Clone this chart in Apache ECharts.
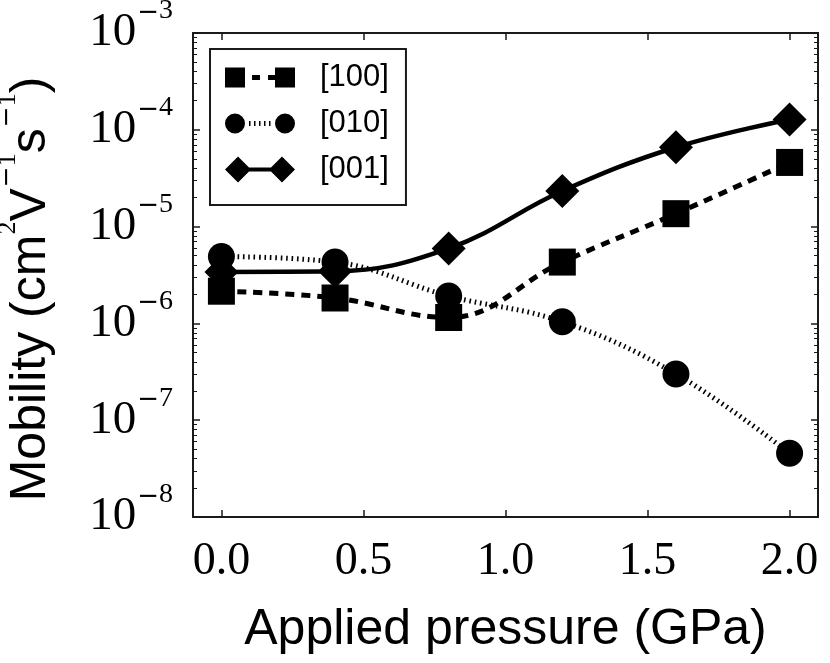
<!DOCTYPE html>
<html>
<head>
<meta charset="utf-8">
<script src="https://cdn.jsdelivr.net/npm/echarts@6/dist/echarts.min.js"></script>
<style>
html,body{margin:0;padding:0;background:#fff;}
#chart{width:830px;height:663px;}
</style>
</head>
<body>
<div id="chart"></div>
<script>
// ---- data ----
const pressure = [0.0, 0.4, 0.8, 1.2, 1.6, 2.0];
const mob100 = [2.15e-6, 1.83e-6, 1.15e-6, 4.3e-6, 1.36e-5, 4.6e-5];
const mob010 = [4.9e-6, 4.3e-6, 1.92e-6, 1.04e-6, 3.0e-7, 4.55e-8];
const mob001 = [3.4e-6, 3.45e-6, 5.95e-6, 2.33e-5, 6.6e-5, 1.28e-4];
const seriesNames = ['[100]', '[010]', '[001]'];
const xLabel = 'Applied pressure (GPa)';

const pairs = (ys) => pressure.map((x, i) => [x, ys[i]]);

// legend icons (matplotlib style: marker - line - marker), 70x26 box
const corner = 'M0,0 L0.01,0 L0.01,0.01 Z M69.99,25.99 L70,25.99 L70,26 Z ';
const icon100 = 'path://' + corner +
  'M0,3 L20,3 L20,23 L0,23 Z M27,10.5 L35,10.5 L35,15.5 L27,15.5 Z M43,10.5 L50,10.5 L50,15.5 L43,15.5 Z M50,3 L70,3 L70,23 L50,23 Z';
let dots = '';
[24, 29, 34, 39, 44].forEach(x => { dots += 'M' + x + ',10.5 L' + (x + 1.5) + ',10.5 L' + (x + 1.5) + ',15.5 L' + x + ',15.5 Z '; });
const icon010 = 'path://' + corner +
  'M0,13 A10,10 0 1,0 20,13 A10,10 0 1,0 0,13 Z M50,13 A10,10 0 1,0 70,13 A10,10 0 1,0 50,13 Z ' + dots;
const icon001 = 'path://' + corner +
  'M0,13 L13,0 L26,13 L13,26 Z M24,11 L46,11 L46,15 L24,15 Z M44,13 L57,0 L70,13 L57,26 Z';

const serif = 'Liberation Serif';
const sans = 'Liberation Sans';
const frameColor = '#1a1a1a';

const chart = echarts.init(document.getElementById('chart'), null, {renderer: 'canvas'});

// tick label "10^-n": base near the tick, exponent raised
const yLabelRich = {
  b: {fontFamily: serif, fontSize: 47, lineHeight: 88, padding: [20.5, 0, 0, 0], verticalAlign: 'top', color: '#000'},
  m: {fontFamily: 'DejaVu Sans', fontSize: 26, lineHeight: 88, padding: [11, 0, 0, 1], verticalAlign: 'top', color: '#000'},
  s: {fontFamily: serif, fontSize: 28, lineHeight: 88, padding: [8, 0, 0, 0], verticalAlign: 'top', color: '#000'}
};

const commonX = {
  type: 'value', min: -0.1, max: 2.1, splitNumber: 5,
  axisLine: {show: true, onZero: false, lineStyle: {color: frameColor, width: 2}},
  axisTick: {show: true, inside: true, length: 7, lineStyle: {color: frameColor, width: 1.5}},
  splitLine: {show: false}
};
const commonY = {
  type: 'log', logBase: 10, min: 1e-8, max: 1e-3,
  axisLine: {show: true, onZero: false, lineStyle: {color: frameColor, width: 2}},
  axisTick: {show: true, inside: true, length: 7, lineStyle: {color: frameColor, width: 1.5}},
  minorTick: {show: true, splitNumber: 9, length: 4, lineStyle: {color: frameColor, width: 1}},
  splitLine: {show: false},
  minorSplitLine: {show: false}
};

const option = {
  backgroundColor: '#fff',
  animation: false,
  grid: {left: 193, right: 12, top: 33, bottom: 146, containLabel: false, outerBoundsMode: 'none'},
  xAxis: [
    Object.assign({}, commonX, {
      position: 'bottom',
      name: xLabel, nameLocation: 'middle', nameGap: 88,
      nameTextStyle: {fontFamily: sans, fontSize: 50, color: '#000'},
      axisLabel: {show: true, margin: 22, fontFamily: serif, fontSize: 46, color: '#000',
        showMinLabel: false, showMaxLabel: false, hideOverlap: false,
        formatter: v => v.toFixed(1)}
    }),
    Object.assign({}, commonX, {position: 'top', axisLabel: {show: false}})
  ],
  yAxis: [
    Object.assign({}, commonY, {
      position: 'left',
      name: '{a|Mobility (cm}{s|2}{a|V}{m|−}{s|1}{a|s}{m|−}{s|1}{e|)}',
      nameLocation: 'middle', nameRotate: 90, nameGap: 138,
      nameTextStyle: {
        rich: {
          a: {fontFamily: sans, fontSize: 50, lineHeight: 60, padding: [11.5, 0, 0, 0], verticalAlign: 'top', color: '#000'},
          e: {fontFamily: sans, fontSize: 50, lineHeight: 60, padding: [11.5, 28, 0, 0], verticalAlign: 'top', color: '#000'},
          s: {fontFamily: serif, fontSize: 26, lineHeight: 60, padding: [0, 0, 0, 0], verticalAlign: 'top', color: '#000'},
          m: {fontFamily: 'DejaVu Sans', fontSize: 25, lineHeight: 60, padding: [0, 0, 0, 1], verticalAlign: 'top', color: '#000'}
        }
      },
      axisLabel: {show: true, margin: 20, rich: yLabelRich,
        showMinLabel: true, showMaxLabel: true, hideOverlap: false,
        formatter: v => '{b|10}{m|−}{s|' + Math.abs(Math.round(Math.log10(v))) + '}'}
    }),
    Object.assign({}, commonY, {position: 'right', axisLabel: {show: false}})
  ],
  legend: {
    show: true, orient: 'vertical', left: 210, top: 49,
    padding: [13, 17, 20, 15],
    borderColor: frameColor, borderWidth: 2,
    backgroundColor: '#fff',
    itemWidth: 70, itemHeight: 26, itemGap: 15,
    symbolKeepAspect: false,
    itemStyle: {borderWidth: 0},
    textStyle: {fontFamily: sans, fontSize: 31, lineHeight: 26, color: '#000', padding: [0, 0, 0, 20]},
    data: [
      {name: seriesNames[0], icon: icon100},
      {name: seriesNames[1], icon: icon010},
      {name: seriesNames[2], icon: icon001}
    ]
  },
  series: [
    {
      name: seriesNames[0], type: 'line', data: pairs(mob100), smooth: 0.4,
      symbol: 'rect', symbolSize: 27,
      itemStyle: {color: '#000'},
      lineStyle: {color: '#000', width: 5, type: [9, 7], cap: 'butt'}
    },
    {
      name: seriesNames[1], type: 'line', data: pairs(mob010), smooth: 0.4,
      symbol: 'circle', symbolSize: 27,
      itemStyle: {color: '#000'},
      lineStyle: {color: '#000', width: 5, type: [1.6, 3.8], cap: 'butt'}
    },
    {
      name: seriesNames[2], type: 'line', data: pairs(mob001), smooth: 0.4,
      symbol: 'diamond', symbolSize: 34,
      itemStyle: {color: '#000'},
      lineStyle: {color: '#000', width: 4.5, type: 'solid'}
    }
  ]
};
chart.setOption(option);
</script>
</body>
</html>
